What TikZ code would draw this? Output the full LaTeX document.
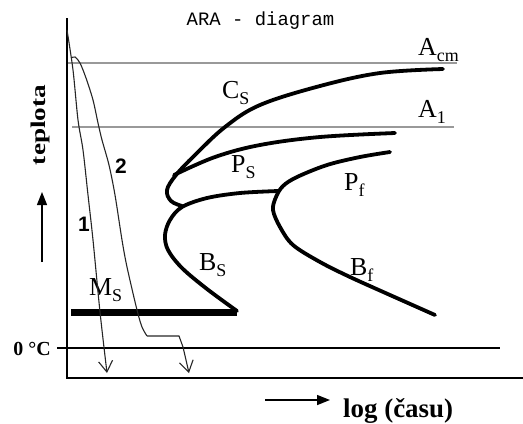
\documentclass[tikz,border=0pt]{standalone}
\usepackage{fontspec}
\setmainfont{Liberation Serif}
\setsansfont{Liberation Sans}
\setmonofont{Liberation Mono}
\usetikzlibrary{arrows.meta}
\newcommand{\fz}[1]{\fontsize{#1}{#1}\selectfont}
\newcommand{\phs}[2]{#1\raisebox{-6bp}{\fz{18}#2}}

\begin{document}
\begin{tikzpicture}[
  x=1bp, y=-1bp,
  axis/.style={line width=1.4bp},
  templine/.style={line width=1.4bp, gray!80},
  cooling/.style={line width=1.1bp, black!85},
  coolarr/.style={cooling, -{Straight Barb[length=11bp, width=14bp]}},
  trans/.style={line width=3.8bp, line cap=round, line join=round},
  phaselbl/.style={anchor=base west, inner sep=0pt, font=\fz{26}},
  numlbl/.style={anchor=base west, inner sep=0pt, font=\fz{21}\sffamily\bfseries},
  axarr/.style={line width=1.4bp, -{Triangle[length=13bp, width=10bp]}}
]
\useasboundingbox (0,0) rectangle (523,423);

% Title
\node[anchor=base, inner sep=0pt, font=\fz{19}\ttfamily] (title) at (260.5,25) {ARA - diagram};

% Frame and 0 C line
\draw[axis] (67,18) -- (67,378) -- (523,378);
\draw[axis] (57,348) -- (500,348);
\node[anchor=base east, inner sep=0pt, font=\fz{20}\bfseries] (zero) at (51,355) {0 °C};

% Axis labels
\node[rotate=90, inner sep=0pt, font=\fz{21}\bfseries] (tepl) at (40,125) {\scalebox{1.3}[1]{teplota}};
\coordinate (up0) at (42,262);
\coordinate (up1) at (42,192);
\draw[axarr] (up0) -- (up1);
\node[anchor=base west, inner sep=0pt, font=\fz{27}\bfseries] (logt) at (343,417) {log (času)};
\coordinate (rt0) at (265,400);
\coordinate (rt1) at (330,400);
\draw[axarr] (rt0) -- (rt1);

% Acm and A1 temperatures
\draw[templine] (68,63) -- (457,63);
\draw[templine] (72,127) -- (454,127);
\node[phaselbl] (acm) at (418,55) {\phs{A}{cm}};
\node[phaselbl] (a1) at (418,117) {\phs{A}{1}};

% Transformation curves
\draw[trans] plot[smooth, tension=0.6] coordinates {(443,69) (380,73) (320,86) (260,105) (225,127) (195,155) (176,175) (167,190) (171,201) (182,206)};
\draw[trans] plot[smooth, tension=0.6] coordinates {(174,175) (215,157) (260,145) (320,137) (395,133)};
\draw[trans] plot[smooth, tension=0.55] coordinates {(237,311) (207,289) (182,268) (168,250) (165,235) (170,220) (182,207) (207,198) (240,193) (278,191)};
\draw[trans] plot[smooth, tension=0.55] coordinates {(390,152) (360,157) (327,165) (297,177) (283,186) (276,197) (273,210) (280,227) (293,245) (320,262) (350,277) (390,295) (435,315)};
\draw[line width=7bp] (71,312) -- (237,312);

% Phase labels
\node[phaselbl] (cs) at (222,98) {\phs{C}{S}};
\node[phaselbl] (ps) at (231,172) {\phs{P}{S}};
\node[phaselbl] (ms) at (89,295) {\phs{M}{S}};
\node[phaselbl] (bs) at (199,270) {\phs{B}{S}};
\node[phaselbl] (pf) at (344,190) {\phs{P}{f}};
\node[phaselbl] (bf) at (350,275) {\phs{B}{f}};

% Cooling curves
\draw[coolarr] plot[smooth, tension=0.5] coordinates {(67,30) (73,70) (78,120) (83,150) (88,195) (93,240) (100,312) (107,373)};
\draw[cooling] plot[smooth, tension=0.5] coordinates {(71,58) (75,57) (80,63) (86,78) (93,100) (98,123) (102,140) (109,165) (115,195) (122,240) (127,267) (137,310) (142,327) (147,336)};
\draw[coolarr] (147,336) -- (179,336) -- (183,347) -- (189,373);
\node[numlbl] (n1) at (78,231) {1};
\node[numlbl] (n2) at (115,173) {2};

\end{tikzpicture}
\end{document}
